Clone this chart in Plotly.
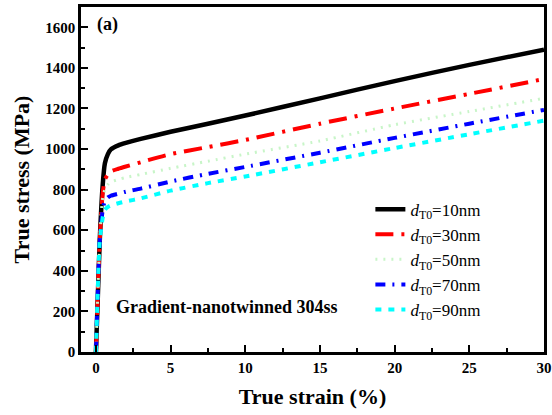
import plotly.graph_objects as go

strain = [0, 0.25, 0.45, 0.6, 0.8, 1.0, 1.5, 2, 3, 5, 7.5, 10, 15, 20, 25, 30]
stress_10 = [0, 540, 820, 930, 975, 998, 1018, 1030, 1050, 1085, 1125, 1165, 1250, 1335, 1415, 1490]
stress_30 = [0, 540, 780, 850, 875, 890, 903, 914, 935, 975, 1010, 1045, 1125, 1200, 1272, 1345]
stress_50 = [0, 540, 760, 800, 825, 838, 850, 860, 875, 905, 940, 975, 1040, 1120, 1185, 1250]
stress_70 = [0, 540, 700, 745, 762, 770, 780, 790, 805, 840, 878, 912, 982, 1055, 1125, 1193]
stress_90 = [0, 540, 660, 700, 715, 722, 733, 742, 757, 795, 832, 865, 935, 1005, 1073, 1140]

labels = ["10nm", "30nm", "50nm", "70nm", "90nm"]
series = [stress_10, stress_30, stress_50, stress_70, stress_90]
colors = ["#000000", "#ff0000", "#c8f5c8", "#0000ff", "#00ffff"]
dashes = ["solid", "18px,8px,3px,8px", "2px,6px", "10px,7px,2px,7px", "6px,7px"]
widths = [4.5, 4, 3, 4, 4]

fig = go.Figure()
for lab, ys, c, d, w in zip(labels, series, colors, dashes, widths):
    fig.add_trace(go.Scatter(
        x=strain, y=ys, mode="lines", line=dict(color=c, dash=d, width=w, shape="spline", smoothing=0.6),
        name="<i>d</i><sub>T0</sub>=" + lab))

fig.update_layout(
    width=552, height=415,
    margin=dict(l=81, r=8, t=7, b=63, autoexpand=False),
    plot_bgcolor="white", paper_bgcolor="white",
    font=dict(family="Liberation Serif", color="black"),
    legend=dict(x=0.625, y=0.465, xanchor="left", yanchor="top",
                font=dict(size=17, family="Liberation Serif"),
                bgcolor="rgba(0,0,0,0)", tracegroupgap=0, itemwidth=30),
    showlegend=True,
)
fig.update_xaxes(range=[-1, 30], tickvals=[0, 5, 10, 15, 20, 25, 30], automargin=False,
                 ticks="inside", ticklen=7, tickwidth=2, tickcolor="black",
                 minor=dict(tickvals=[2.5, 7.5, 12.5, 17.5, 22.5, 27.5], ticks="inside", ticklen=4, tickwidth=2, tickcolor="black"),
                 showline=True, linewidth=2.5, linecolor="black", mirror=True, showgrid=False, zeroline=False,
                 tickfont=dict(size=15, family="Liberation Serif", weight="bold"),
                 title=dict(text="<b>True strain (%)</b>", font=dict(size=22, family="Liberation Serif"), standoff=14))
fig.update_yaxes(range=[0, 1700], tickvals=[0, 200, 400, 600, 800, 1000, 1200, 1400, 1600], automargin=False,
                 ticks="inside", ticklen=7, tickwidth=2, tickcolor="black",
                 minor=dict(tickvals=[100, 300, 500, 700, 900, 1100, 1300, 1500], ticks="inside", ticklen=4, tickwidth=2, tickcolor="black"),
                 showline=True, linewidth=2.5, linecolor="black", mirror=True, showgrid=False, zeroline=False,
                 tickfont=dict(size=15, family="Liberation Serif", weight="bold"),
                 title=dict(text="<b>True stress (MPa)</b>", font=dict(size=22, family="Liberation Serif"), standoff=10))

fig.add_annotation(x=0.03, y=0.985, xref="paper", yref="paper", text="<b>(a)</b>",
                   showarrow=False, xanchor="left", yanchor="top",
                   font=dict(size=18, family="Liberation Serif"))
fig.add_annotation(x=0.072, y=0.13, xref="paper", yref="paper", text="<b>Gradient-nanotwinned 304ss</b>",
                   showarrow=False, xanchor="left", yanchor="middle",
                   font=dict(size=18, family="Liberation Serif"))

fig.write_html("out.html")
